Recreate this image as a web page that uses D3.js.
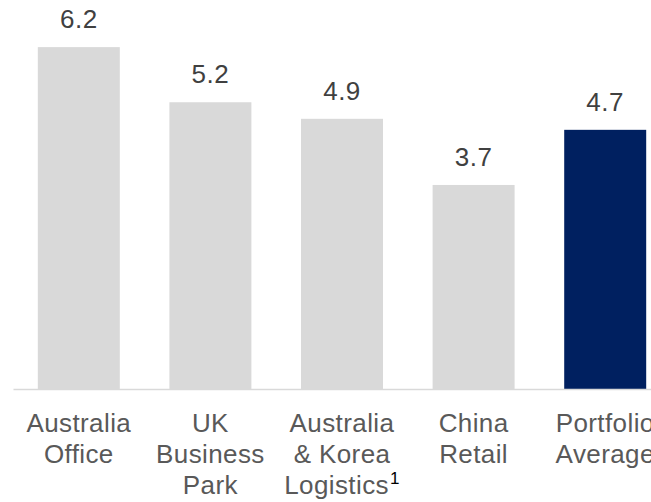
<!DOCTYPE html>
<html>
<head>
<meta charset="utf-8">
<script src="https://cdn.jsdelivr.net/npm/d3@7"></script>
<style>
  html, body { margin: 0; padding: 0; background: #fff; overflow: hidden; }
  svg { display: block; font-family: "Liberation Sans", Arial, sans-serif; }
</style>
</head>
<body>
<svg id="chart" width="651" height="502"></svg>
<script>
// Categories (each split into label lines), their values and footnote marks
const categories = ["Australia Office", "UK Business Park", "Australia & Korea Logistics", "China Retail", "Portfolio Average"];
const labelLines = [["Australia", "Office"], ["UK", "Business", "Park"], ["Australia", "& Korea", "Logistics"], ["China", "Retail"], ["Portfolio", "Average"]];
const footnotes = ["", "", "1", "", ""];
const values = [6.2, 5.2, 4.9, 3.7, 4.7];
const highlight = [false, false, false, false, true];

const svg = d3.select("#chart");
const baseY = 389;

const x = d3.scaleBand()
  .domain(categories)
  .range([13, 671])
  .paddingInner(0.377)
  .paddingOuter(0.1885);

const y = d3.scaleLinear()
  .domain([0, 7])
  .range([baseY, 3]);

// Bars
svg.append("g").selectAll("rect")
  .data(categories)
  .join("rect")
  .attr("x", d => x(d))
  .attr("y", (d, i) => y(values[i]))
  .attr("width", x.bandwidth())
  .attr("height", (d, i) => y(0) - y(values[i]))
  .attr("fill", (d, i) => highlight[i] ? "#002060" : "#d9d9d9");

// Baseline axis
const axis = svg.append("g")
  .attr("transform", `translate(0,${baseY})`)
  .call(d3.axisBottom(x).tickSize(0).tickFormat(""));
axis.select(".domain").attr("stroke", "#d9d9d9").attr("stroke-width", 1.5);

// Value labels above bars
svg.append("g").selectAll("text")
  .data(categories)
  .join("text")
  .attr("x", d => x(d) + x.bandwidth() / 2)
  .attr("y", (d, i) => y(values[i]) - 19)
  .attr("text-anchor", "middle")
  .attr("font-size", 26)
  .attr("letter-spacing", 0.5)
  .attr("fill", "#404040")
  .text((d, i) => values[i].toFixed(1));

// Category labels, multi-line with optional footnote superscript
const labels = svg.append("g").selectAll("text")
  .data(categories)
  .join("text")
  .attr("text-anchor", "middle")
  .attr("font-size", 26)
  .attr("letter-spacing", 0.4)
  .attr("fill", "#595959");

labels.each(function(d, i) {
  const t = d3.select(this);
  const cx = x(d) + x.bandwidth() / 2;
  const lines = labelLines[i];
  lines.forEach((line, j) => {
    t.append("tspan")
      .attr("x", cx)
      .attr("y", 432 + j * 31)
      .text(line);
    if (j === lines.length - 1 && footnotes[i]) {
      t.append("tspan")
        .attr("font-size", 17)
        .attr("fill", "#000")
        .attr("dy", -10)
        .attr("dx", 1)
        .text(footnotes[i]);
    }
  });
});
</script>
</body>
</html>
